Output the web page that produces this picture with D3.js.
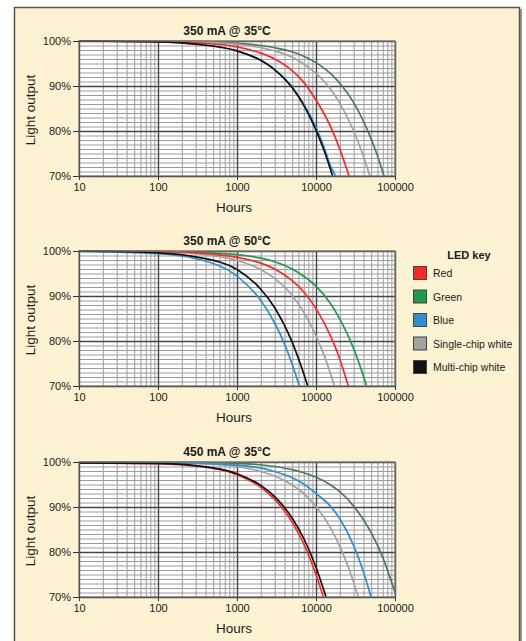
<!DOCTYPE html>
<html>
<head>
<meta charset="utf-8">
<script src="https://cdn.jsdelivr.net/npm/d3@7"></script>
<style>
body { margin: 0; background: #fff; }
text { font-family: "Liberation Sans", Arial, Helvetica, sans-serif; fill: #1a1a1a; }
</style>
</head>
<body>
<script>

// chart titles and axis ticks
var titles = ["350 mA @ 35\u00B0C", "350 mA @ 50\u00B0C", "450 mA @ 35\u00B0C"];
var hourTicks = [10, 100, 1000, 10000, 100000];
var pctTicks = [70, 80, 90, 100];
var seriesNames = ["Red", "Green", "Blue", "Single-chip white", "Multi-chip white"];

// [hours, % light output]
var p1Red   = [[10,100],[100,99.9],[300,99.6],[1000,98.7],[2000,97.3],[3000,96],[5000,93.4],[7000,90.8],[10000,86.9],[15000,81.3],[20000,76],[26200,70]];
var p1Green = [[10,100],[100,100],[300,99.9],[1000,99.5],[2000,99],[3000,98.5],[5000,97.6],[7000,96.6],[10000,95.2],[15000,92.9],[20000,90.6],[30000,86.3],[50000,78.2],[60000,74.5],[72600,70]];
var p1Blue  = [[10,100],[100,99.8],[300,99.3],[1000,97.8],[2000,95.7],[3000,93.7],[5000,89.8],[7000,86],[10000,80.8],[13000,75.8],[15000,72.6],[17700,70]];
var p1Gray  = [[10,100],[100,99.9],[300,99.8],[1000,99.3],[2000,98.5],[3000,97.8],[5000,96.4],[7000,94.9],[10000,92.8],[15000,89.5],[20000,86.2],[30000,80],[40000,74.3],[48000,70]];
var p1Black = [[10,100],[100,99.8],[300,99.3],[1000,97.8],[2000,95.7],[3000,93.6],[5000,89.6],[7000,85.7],[10000,80.2],[13000,75.1],[16200,70]];

var p2Red   = [[10,100],[100,99.9],[300,99.6],[1000,98.6],[2000,97.3],[3000,96],[5000,93.4],[7000,90.9],[10000,87.2],[15000,81.4],[20000,76],[25600,70]];
var p2Green = [[10,100],[100,99.9],[1000,99.2],[2000,98.4],[3000,97.6],[5000,96],[7000,94.4],[10000,92.2],[15000,88.5],[20000,84.9],[30000,78.3],[40000,72.1],[43700,70]];
var p2Blue  = [[10,99.9],[100,99.4],[300,98.3],[1000,94.4],[2000,89],[3000,84],[4000,79.3],[5000,74.8],[6150,70]];
var p2Gray  = [[10,100],[100,99.8],[300,99.4],[1000,97.9],[2000,95.9],[3000,93.9],[5000,90.1],[7000,86.4],[10000,81.2],[13000,76.3],[17100,70]];
var p2Black = [[10,100],[100,99.6],[300,98.7],[1000,95.9],[2000,91.5],[3000,87.4],[5000,79.7],[7000,72.7],[7850,70]];

var p3Red   = [[10,99.8],[100,99.6],[300,99.1],[1000,97.2],[2000,94.4],[3000,91.7],[5000,86.6],[7000,81.8],[10000,75],[12400,70]];
var p3Green = [[10,100],[100,100],[1000,99.7],[3000,99],[5000,98.3],[7000,97.6],[10000,96.6],[15000,95],[20000,93.4],[30000,90.2],[50000,84.3],[70000,78.8],[100000,71]];
var p3Blue  = [[10,100],[100,99.9],[1000,99.3],[3000,97.9],[5000,96.5],[7000,95.1],[10000,93],[15000,90.3],[20000,87.4],[30000,81.4],[40000,75.5],[49700,70]];
var p3Gray  = [[10,100],[100,99.9],[300,99.7],[1000,99],[2000,97.9],[3000,96.9],[5000,94.9],[7000,93],[10000,90.1],[15000,85.6],[20000,81.3],[25000,77.2],[30000,73.2],[34400,70]];
var p3Black = [[10,99.8],[100,99.7],[300,99.2],[1000,97.4],[2000,94.8],[3000,92.3],[5000,87.5],[7000,83],[10000,76.6],[13400,70]];

var colors = ["#ff2626", "#1f9a4e", "#2e90cf", "#a2a2a2", "#111111"];

var panels = [
    {title: titles[0], top: 41,  green: "#4b7a54", data: [p1Red, p1Green, p1Blue, p1Gray, p1Black]},
    {title: titles[1], top: 251, green: "#1f9a4e", data: [p2Red, p2Green, p2Blue, p2Gray, p2Black]},
    {title: titles[2], top: 462, green: "#4b7a54", data: [p3Red, p3Green, p3Blue, p3Gray, p3Black]}
];
var drawOrder = [1, 3, 2, 0, 4];

var svg = d3.select("body").append("svg")
          .attr("width", 526)
          .attr("height", 641);

// cream frame with a soft shadow on the right
svg.append("rect").attr("x", 17).attr("y", 9).attr("width", 505).attr("height", 640).attr("fill", "#9a9a9a");
svg.append("rect").attr("x", 14.5).attr("y", 7.5).attr("width", 505).attr("height", 640)
    .attr("fill", "#fdf2d2").attr("stroke", "#555").attr("stroke-width", 1.5);

var plotH = 135;
var x = d3.scaleLog().domain([10, 100000]).range([79, 395]);

panels.forEach(function(p) {
    var y = d3.scaleLinear().domain([70, 100]).range([p.top + plotH, p.top]);
    var g = svg.append("g");

    g.append("rect")
        .attr("x", x(10)).attr("y", p.top)
        .attr("width", x(100000) - x(10)).attr("height", plotH)
        .attr("fill", "#fff");

    // minor grid
    var minorX = x.ticks().filter(function(d) { return hourTicks.indexOf(d) < 0; });
    var minorY = d3.range(71, 100).filter(function(d) { return d % 10 != 0; });

    g.append("g")
        .attr("transform", "translate(0," + (p.top + plotH) + ")")
        .call(d3.axisBottom(x).tickValues(minorX).tickSize(-plotH).tickFormat(""))
        .call(function(s) { s.select(".domain").remove(); })
        .selectAll("line").attr("stroke", "#9c9c9c").attr("stroke-width", 1);

    g.append("g")
        .attr("transform", "translate(" + x(10) + ",0)")
        .call(d3.axisLeft(y).tickValues(minorY).tickSize(-(x(100000) - x(10))).tickFormat(""))
        .call(function(s) { s.select(".domain").remove(); })
        .selectAll("line").attr("stroke", "#9c9c9c").attr("stroke-width", 1);

    // major grid
    g.append("g")
        .attr("transform", "translate(0," + (p.top + plotH) + ")")
        .call(d3.axisBottom(x).tickValues(hourTicks).tickSize(-plotH).tickFormat(""))
        .call(function(s) { s.select(".domain").remove(); })
        .selectAll("line").attr("stroke", "#454545").attr("stroke-width", 1.4);

    g.append("g")
        .attr("transform", "translate(" + x(10) + ",0)")
        .call(d3.axisLeft(y).tickValues(pctTicks).tickSize(-(x(100000) - x(10))).tickFormat(""))
        .call(function(s) { s.select(".domain").remove(); })
        .selectAll("line").attr("stroke", "#454545").attr("stroke-width", 1.4);

    // curves
    var line = d3.line()
        .x(function(d) { return x(d[0]); })
        .y(function(d) { return y(d[1]); })
        .curve(d3.curveMonotoneX);

    drawOrder.forEach(function(k) {
        g.append("path")
            .datum(p.data[k])
            .attr("d", line)
            .attr("fill", "none")
            .attr("stroke", k == 1 ? p.green : colors[k])
            .attr("stroke-width", 1.7);
    });

    // plot frame
    g.append("rect")
        .attr("x", x(10)).attr("y", p.top)
        .attr("width", x(100000) - x(10)).attr("height", plotH)
        .attr("fill", "none").attr("stroke", "#7a7a7a").attr("stroke-width", 1.2);

    // axes with labels
    var ax = g.append("g")
        .attr("transform", "translate(0," + (p.top + plotH) + ")")
        .call(d3.axisBottom(x).tickValues(hourTicks).tickSize(4).tickPadding(3).tickFormat(d3.format("d")));
    ax.select(".domain").attr("stroke", "#555");
    ax.selectAll("line").attr("stroke", "#333");
    ax.selectAll("text").attr("font-size", 11).attr("font-family", null).attr("fill", "#1a1a1a");

    var ay = g.append("g")
        .attr("transform", "translate(" + x(10) + ",0)")
        .call(d3.axisLeft(y).tickValues(pctTicks).tickSize(6).tickPadding(2).tickFormat(function(d) { return d + "%"; }));
    ay.select(".domain").attr("stroke", "#555");
    ay.selectAll("line").attr("stroke", "#333");
    ay.selectAll("text").attr("font-size", 11).attr("font-family", null).attr("fill", "#1a1a1a");

    g.append("text")
        .text(p.title)
        .attr("x", 227).attr("y", p.top - 6)
        .attr("text-anchor", "middle")
        .attr("font-size", 12).attr("font-weight", "bold");

    g.append("text")
        .text("Hours")
        .attr("x", 234).attr("y", p.top + plotH + 36)
        .attr("text-anchor", "middle")
        .attr("font-size", 13.5);

    g.append("text")
        .text("Light output")
        .attr("transform", "translate(35," + (p.top + 69) + ") rotate(-90)")
        .attr("text-anchor", "middle")
        .attr("font-size", 13.5);
});

// legend
svg.append("text")
    .text("LED key")
    .attr("x", 469).attr("y", 259)
    .attr("text-anchor", "middle")
    .attr("font-size", 11).attr("font-weight", "bold");

var key = svg.selectAll(".key")
    .data(seriesNames)
    .enter().append("g")
        .attr("class", "key")
        .attr("transform", function(d, i) { return "translate(413," + (273 + i * 23.5) + ")"; });

key.append("rect")
    .attr("x", 0.5).attr("y", -6.5)
    .attr("width", 13).attr("height", 13)
    .attr("fill", function(d, i) { return colors[i]; })
    .attr("stroke", "#444").attr("stroke-width", 1);

key.append("text")
    .text(function(d) { return d; })
    .attr("x", 20).attr("y", 4)
    .attr("font-size", 10.5);

</script>
</body>
</html>
